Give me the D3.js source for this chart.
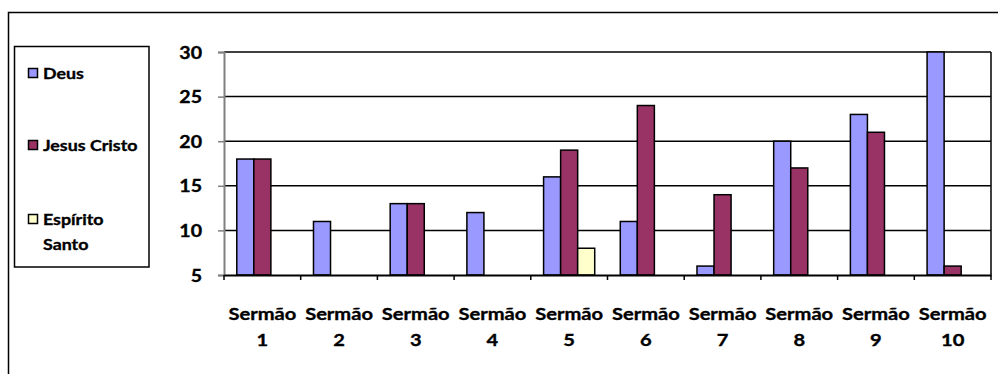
<!DOCTYPE html>
<html>
<head>
<meta charset="utf-8">
<script src="https://cdn.jsdelivr.net/npm/d3@7"></script>
<style>
  html, body { margin: 0; padding: 0; background: #fff; }
  svg { display: block; }
  text { font-family: Lato, "Open Sans", sans-serif; font-weight: bold; fill: #000; stroke: #000; stroke-width: 0.35px; }
</style>
</head>
<body>
<svg id="chart" width="998" height="374"></svg>
<script>
// Occurrences per sermon
const categories = ["1", "2", "3", "4", "5", "6", "7", "8", "9", "10"];
const seriesNames = ["Deus", "Jesus Cristo", "Espírito Santo"];
const deus = [18, 11, 13, 12, 16, 11, 6, 20, 23, 30];
const jesusCristo = [18, 0, 13, 0, 19, 24, 14, 17, 21, 6];
const espiritoSanto = [0, 0, 0, 0, 8, 0, 0, 0, 0, 0];
const yTicks = [5, 10, 15, 20, 25, 30];
const categoryPrefix = "Sermão";

const seriesValues = [deus, jesusCristo, espiritoSanto];
const colors = ["#9999FF", "#993366", "#FFFFCC"];

const svg = d3.select("#chart");
const sx = 1.15; // horizontal text stretch

// Chart frame
svg.append("rect")
  .attr("x", 8.5).attr("y", 12.5)
  .attr("width", 1100).attr("height", 500)
  .attr("fill", "none").attr("stroke", "#000").attr("stroke-width", 1.5);

const plot = { left: 224, right: 991, top: 52, bottom: 275 };

const x0 = d3.scaleBand().domain(categories).range([plot.left, plot.right]).padding(0);
const x1 = d3.scaleBand().domain(seriesNames).range([0, x0.bandwidth()])
  .paddingInner(0).paddingOuter(0.75);
const y = d3.scaleLinear().domain([5, 30]).range([plot.bottom, plot.top]);

// Gridlines
svg.append("g").selectAll("line").data(yTicks.filter(t => t > 5)).join("line")
  .attr("x1", plot.left).attr("x2", plot.right)
  .attr("y1", d => y(d)).attr("y2", d => y(d))
  .attr("stroke", "#000").attr("stroke-width", 1.5);

// Right border of the plot area
svg.append("line")
  .attr("x1", plot.right).attr("x2", plot.right)
  .attr("y1", plot.top).attr("y2", plot.bottom)
  .attr("stroke", "#000").attr("stroke-width", 1.5);

// Bars
const groups = svg.append("g").selectAll("g").data(categories).join("g")
  .attr("transform", d => `translate(${x0(d)},0)`);
groups.selectAll("rect")
  .data((c, i) => seriesNames.map((s, k) => ({ s, k, v: seriesValues[k][i] })).filter(d => d.v > 5))
  .join("rect")
  .attr("x", d => x1(d.s))
  .attr("y", d => y(d.v))
  .attr("width", x1.bandwidth())
  .attr("height", d => y(5) - y(d.v))
  .attr("fill", d => colors[d.k])
  .attr("stroke", "#000").attr("stroke-width", 1.5);

// Y axis
const yAxis = svg.append("g").attr("transform", `translate(${plot.left},0)`)
  .call(d3.axisLeft(y).tickValues(yTicks).tickSize(6).tickPadding(0).tickFormat(d3.format("d")));
yAxis.select(".domain").attr("stroke", "#808080").attr("stroke-width", 2);
yAxis.selectAll(".tick line").attr("stroke", "#808080").attr("stroke-width", 1.5);
yAxis.selectAll(".tick text").remove();
yAxis.selectAll(".tick").append("text")
  .attr("text-anchor", "end")
  .attr("font-size", 17)
  .attr("transform", `translate(-22,6) scale(${sx},1)`)
  .text(d => d);

// X axis
const xAxis = svg.append("g").attr("transform", `translate(0,${plot.bottom})`)
  .call(d3.axisBottom(x0).tickSize(0).tickFormat(""));
xAxis.select(".domain").attr("stroke", "#000").attr("stroke-width", 2);
xAxis.selectAll(".tick").remove();
const boundaries = categories.map(c => x0(c)).concat([plot.right]);
xAxis.selectAll("line.cat").data(boundaries).join("line").attr("class", "cat")
  .attr("x1", d => d).attr("x2", d => d).attr("y1", 0).attr("y2", 5)
  .attr("stroke", "#000").attr("stroke-width", 1.5);

const labels = svg.append("g").selectAll("g").data(categories).join("g")
  .attr("transform", d => `translate(${x0(d) + x0.bandwidth() / 2},0)`);
labels.append("text")
  .attr("text-anchor", "middle").attr("font-size", 17.5)
  .attr("transform", `translate(0,320) scale(${sx},1)`)
  .text(categoryPrefix);
labels.append("text")
  .attr("text-anchor", "middle").attr("font-size", 17.5)
  .attr("transform", `translate(0,346) scale(${sx},1)`)
  .text(d => d);

// Legend
const legend = svg.append("g");
legend.append("rect")
  .attr("x", 14.5).attr("y", 46.5).attr("width", 134.5).attr("height", 220.5)
  .attr("fill", "#fff").attr("stroke", "#000").attr("stroke-width", 1.5);
const legendRows = [
  { lines: ["Deus"], y: 73 },
  { lines: ["Jesus Cristo"], y: 145 },
  { lines: ["Espírito", "Santo"], y: 219 }
];
legendRows.forEach((row, k) => {
  legend.append("rect")
    .attr("x", 28.5).attr("y", row.y - 4.5).attr("width", 9).attr("height", 9)
    .attr("fill", colors[k]).attr("stroke", "#000").attr("stroke-width", 1.5);
  row.lines.forEach((line, j) => {
    legend.append("text")
      .attr("font-size", 15.5)
      .attr("transform", `translate(43,${row.y + 5.5 + j * 25.5}) scale(${sx},1)`)
      .text(line);
  });
});
</script>
</body>
</html>
